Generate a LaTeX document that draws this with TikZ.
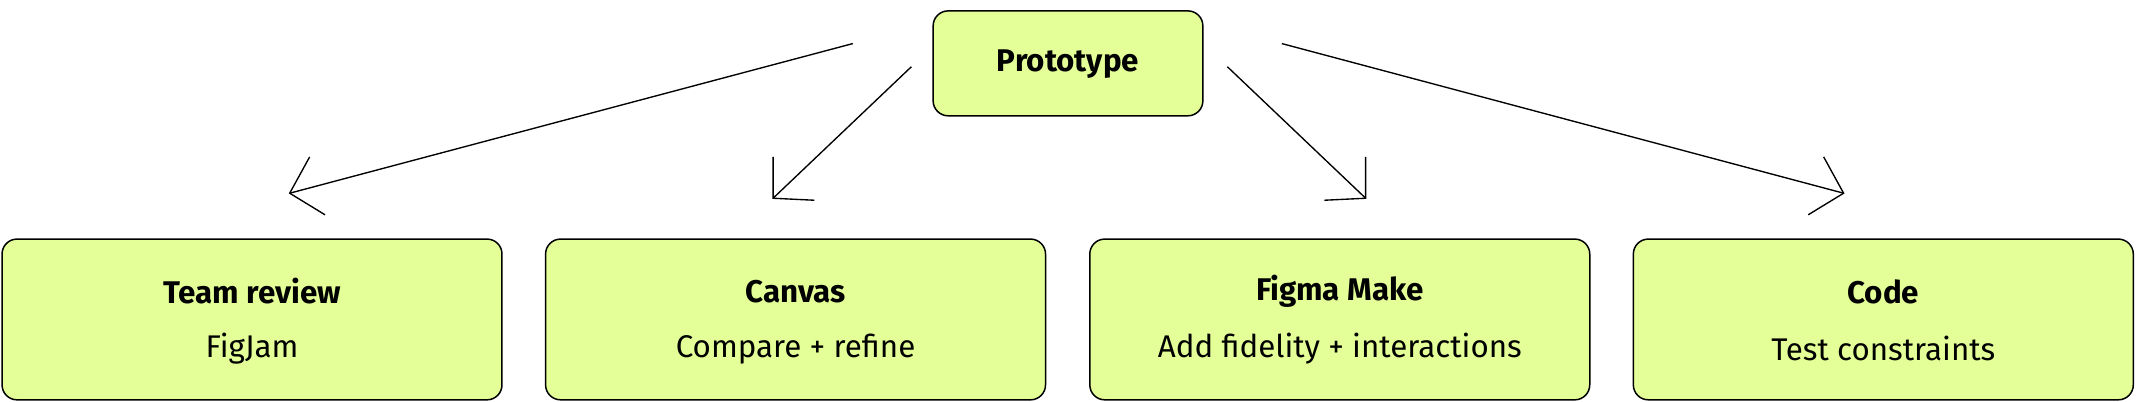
\documentclass[tikz,border=0pt]{standalone}
\usepackage{fontspec}
\setmainfont{Fira Sans}
\usetikzlibrary{arrows.meta}
\definecolor{boxfill}{HTML}{E4FF97}
\begin{document}
\begin{tikzpicture}[x=1pt,y=-1pt,
  box/.style={draw=black,line width=1.1pt,fill=boxfill,rounded corners=11pt,inner sep=0pt,align=center},
  conn/.style={line width=1pt,-{Straight Barb[length=21pt,width=44pt,line width=1pt]}},
  ttl/.style={font=\fontsize{23}{26}\selectfont\bfseries},
  sub/.style={font=\fontsize{23}{26}\selectfont}]
\useasboundingbox (0,0) rectangle (1568,295);
\node[box,minimum width=198pt,minimum height=77pt] (proto) at (784,46.5) {};
\node[ttl] at (784,47) {Prototype};
\foreach \n/\cx/\t/\s in {a/185/Team review/FigJam / Slides, b/584/Canvas/Compare + refine, c/983.5/Figma Make/Add fidelity + interactions, d/1382.5/Code/Test constraints}{
  \node[box,minimum width=367pt,minimum height=118pt] (\n) at (\cx,234.5) {};
  \node[ttl] at (\cx,214) {\t};
  \node[sub] at (\cx,256) {\s};
}
\coordinate (s1) at (626,32); \coordinate (e1) at (212,142);
\coordinate (s2) at (669,49); \coordinate (e2) at (567,146);
\coordinate (s3) at (901,49); \coordinate (e3) at (1003,146);
\coordinate (s4) at (941,32); \coordinate (e4) at (1354,142);
\foreach \i in {1,2,3,4}{\draw[conn] (s\i) -- (e\i);}
\end{tikzpicture}
\end{document}
